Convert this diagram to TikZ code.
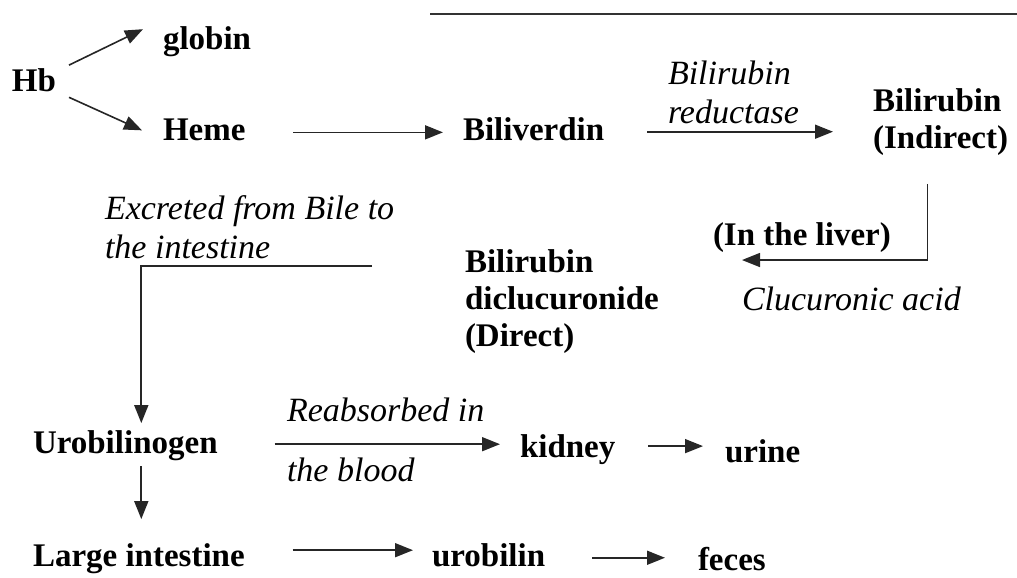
\documentclass[tikz,border=0pt]{standalone}
\usepackage{fontspec}
\setmainfont{Liberation Serif}
\usetikzlibrary{arrows.meta}

\begin{document}
\begin{tikzpicture}[
    x=1pt, y=-1pt,
    every node/.style={inner sep=0pt, outer sep=0pt},
    chem/.style={font=\fontsize{33}{37}\selectfont\bfseries, anchor=base west},
    chemlines/.style={font=\fontsize{33}{37}\selectfont\bfseries, anchor=north west, align=left},
    note/.style={font=\fontsize{34}{38}\selectfont\itshape, anchor=base west},
    notelines/.style={font=\fontsize{34}{39}\selectfont\itshape, anchor=north west, align=left},
    arrow/.style={line width=1.6pt, draw=black!85, -{Triangle[length=18pt,width=14pt]}},
    rule/.style={line width=1.6pt, draw=black!80}
]
\useasboundingbox (0,0) rectangle (1017,578);

% heme breakdown
\node[chem] (hb) at (12,92) {Hb};
\node[chem] (globin) at (163,49) {globin};
\node[chem] (heme) at (163,140) {Heme};
\node[chem] (biliverdin) at (463,140) {Biliverdin};
\node[notelines] (reductase) at (668,61) {Bilirubin\\reductase};
\node[chemlines] (indirect) at (873,89) {Bilirubin\\(Indirect)};

% conjugation in the liver
\node[chem] (liver) at (713,245) {(In the liver)};
\node[note] (acid) at (742,310) {Clucuronic acid};
\node[chemlines] (direct) at (465,250) {Bilirubin\\diclucuronide\\(Direct)};
\node[notelines] (bile) at (105,196) {Excreted from Bile to\\the intestine};
\coordinate (bilestart) at (372,266);

% intestine
\node[chem] (uro) at (33,453) {Urobilinogen};
\node[note] (reabs) at (287,421) {Reabsorbed in};
\node[note] (blood) at (287,481) {the blood};
\node[chem] (kidney) at (520,457) {kidney};
\node[chem] (urine) at (725,462) {urine};
\node[chem] (large) at (33,566) {Large intestine};
\node[chem] (urobilin) at (432,566) {urobilin};
\node[chem] (feces) at (698,570) {feces};

\draw[rule] (430,14) -- (1017,14);

\draw[arrow] ([shift={(13,-4)}]hb.north east) -- ([shift={(-20,-12)}]globin.west);
\draw[arrow] ([shift={(13,5)}]hb.south east) -- ([shift={(-21,1)}]heme.west);
\draw[arrow, shorten <=48pt, shorten >=20pt] ([yshift=-3pt]heme.east) -- ([yshift=-3pt]heme.east -| biliverdin.west);
\draw[arrow, shorten <=43pt, shorten >=40pt] ([yshift=-3pt]biliverdin.east) -- ([yshift=-3pt]biliverdin.east -| indirect.west);
\draw[arrow, shorten <=28pt] ([xshift=-13pt]indirect.south) |- ([shift={(29,8)}]liver.south west);
\draw[arrow] (bilestart) -| ([shift={(16,-7)}]uro.north);
\draw[arrow, shorten <=57pt, shorten >=20pt] ([yshift=1pt]uro.east) -- ([yshift=1pt]uro.east -| kidney.west);
\draw[arrow, shorten <=33pt, shorten >=22pt] ([yshift=3pt]kidney.east) -- ([yshift=3pt]kidney.east -| urine.west);
\draw[arrow, shorten <=6pt, shorten >=24pt] ([xshift=16pt]uro.south) -- ([xshift=16pt]uro.south |- large.north);
\draw[arrow, shorten <=48pt, shorten >=19pt] ([yshift=8pt]large.east) -- ([yshift=8pt]large.east -| urobilin.west);
\draw[arrow, shorten <=47pt, shorten >=33pt] ([yshift=-3pt]urobilin.east) -- ([yshift=-3pt]urobilin.east -| feces.west);

\end{tikzpicture}
\end{document}
